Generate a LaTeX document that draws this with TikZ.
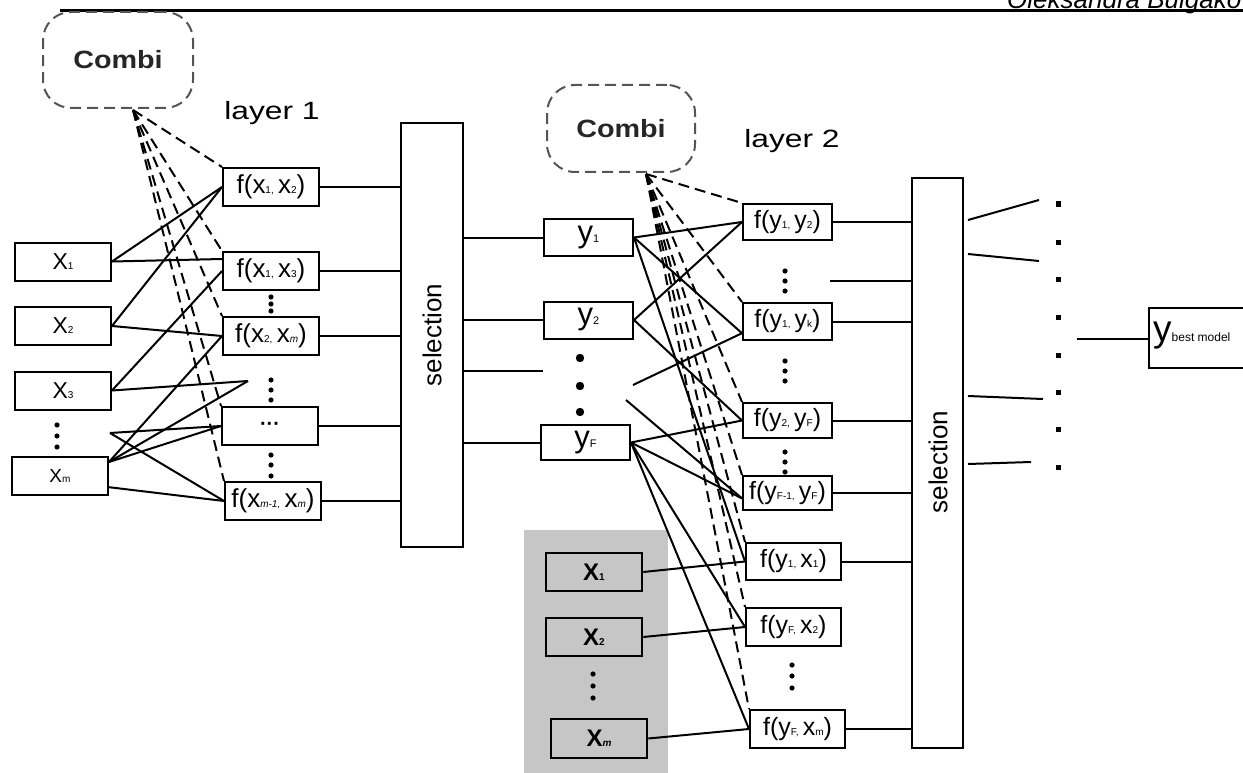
\documentclass[tikz,border=0pt]{standalone}
\usepackage{fontspec}
\setmainfont{Liberation Sans}
\usetikzlibrary{calc}
\newcommand\sbs[1]{{\fontsize{10}{10}\selectfont #1}}
\newcommand\sbb[1]{{\fontsize{11}{11}\selectfont #1}}
\begin{document}
\begin{tikzpicture}[x=1pt,y=-1pt,
  box/.style={draw, line width=2pt, inner sep=0pt, minimum width=96pt, minimum height=38pt, fill=white},
  inbox/.style={box, font=\fontsize{23}{26}\selectfont},
  fbox/.style={box, font=\fontsize{26}{28}\selectfont},
  ybox/.style={box, minimum width=89pt, minimum height=37pt, font=\fontsize{31}{32}\selectfont},
  gbox/.style={box, minimum width=89pt, minimum height=36pt, font=\fontsize{25}{28}\selectfont},
  hbox/.style={box, minimum width=95pt, minimum height=38pt, font=\fontsize{25}{28}\selectfont},
  xgray/.style={box, line width=2.6pt, fill=graybg, font=\bfseries\fontsize{24}{26}\selectfont},
  selbox/.style={draw, line width=2pt, inner sep=0pt},
  combibox/.style={draw=combigray, line width=2pt, dash pattern=on 11pt off 6pt, rounded corners=28pt, inner sep=0pt, font=\bfseries\fontsize{25}{28}\selectfont, text=black!85},
  conn/.style={line width=2pt},
  dconn/.style={line width=2pt, dash pattern=on 11pt off 6pt},
  lbl/.style={font=\fontsize{25}{27}\selectfont, inner sep=0pt}
]
\definecolor{graybg}{HTML}{C6C6C6}
\definecolor{combigray}{HTML}{555555}
\useasboundingbox (0,0) rectangle (1243,773);
\clip (0,0) rectangle (1243,773);

% header
\node[anchor=base west, inner sep=0pt, font=\itshape\fontsize{26}{28}\selectfont] (hdr) at (1007,8.5) {Oleksandra Bulgako};
\draw[line width=2.2pt] (60,10.5) -- (1243,10.5);

% gray area
\fill[graybg] (524,530) rectangle (668,790);

% combi boxes and layer labels
\node[combibox, minimum width=150pt, minimum height=96pt] (combiA) at (118,60) {\scalebox{1.15}[1]{Combi}};
\node[combibox, minimum width=148pt, minimum height=87pt] (combiB) at (621,128.5) {\scalebox{1.15}[1]{Combi}};
\node[lbl] (layA) at (272,113) {\scalebox{1.27}[1]{layer 1}};
\node[lbl] (layB) at (792,141) {\scalebox{1.27}[1]{layer 2}};
\coordinate (cA) at (133,110);
\coordinate (cB) at (646,174);

% layer 1 inputs
\node[inbox] (X1) at (63,261.5) {X\sbs{1}};
\node[inbox] (X2) at (63,326) {X\sbs{2}};
\node[inbox] (X3) at (63,390.5) {X\sbs{3}};
\node[inbox, font=\fontsize{19}{20}\selectfont] (Xm) at (60,476) {X\sbs{m}};
\foreach \yy in {425,436,447} \fill (57,\yy) circle (2.6);

% layer 1 f boxes
\node[fbox] (f12) at (271,187) {f(x\sbs{1,}\,x\sbs{2})};
\node[fbox] (f13) at (271,271) {f(x\sbs{1,}\,x\sbs{3})};
\node[fbox] (f2m) at (271,336) {f(x\sbs{2,}\,x\sbs{\itshape m})};
\node[fbox, font=\bfseries\fontsize{20}{22}\selectfont] (fdd) at (270,426) {\raisebox{-2pt}{···}};
\node[fbox] (fm1m) at (273,501) {f(x\sbs{\itshape m-1,}\,x\sbs{\itshape m})};
\foreach \yy in {297,304,311, 380,390,400, 455,465,476} \fill (271,\yy) circle (2.6);

% selection 1
\node[selbox, minimum width=62pt, minimum height=424pt] (sel1) at (432,335) {};
\node[rotate=90, font=\fontsize{26}{28}\selectfont, inner sep=0pt] (sel1t) at (sel1.center) {selection};

% free points layer 1
\coordinate (d1) at (248,381);
\coordinate (p1) at (110,433);
\coordinate (xmt) at ($(Xm.north east)!0.15!(Xm.south east)$);
\coordinate (xmb) at ($(Xm.north east)!0.78!(Xm.south east)$);
\coordinate (f13t) at ($(f13.north west)!0.2!(f13.south west)$);

% layer 1 solid connectors
\draw[conn] (X1.east) -- (f12.west);
\draw[conn] (X1.east) -- (f13t);
\draw[conn] (X2.east) -- (f12.west);
\draw[conn] (X2.east) -- (f2m.west);
\draw[conn] (X3.east) -- (f13.west);
\draw[conn] (X3.east) -- (d1);
\draw[conn] (xmt) -- (f2m.west);
\draw[conn] (xmt) -- (d1);
\draw[conn] (xmt) -- (fdd.west);
\draw[conn] (p1) -- (fdd.west);
\draw[conn] (p1) -- (fm1m.west);
\draw[conn] (xmb) -- (fm1m.west);

% layer 1 dashed
\foreach \n in {f12,f13,f2m,fdd,fm1m} \draw[dconn] (cA) -- (\n.north west);

% layer 1 to selection
\foreach \n in {f12,f13,f2m,fdd,fm1m} \draw[conn] (\n.east) -- (\n.east -| sel1.west);

% y boxes
\node[ybox] (y1) at (588.5,237.5) {y\sbb{1}};
\node[ybox] (y2) at (588.5,320) {y\sbb{2}};
\node[ybox, minimum height=35pt] (yF) at (585.5,442.5) {y\sbb{F}};
\foreach \yy in {358,386,412} \fill (580,\yy) circle (4.2);
\coordinate (e3) at (543,371);
\draw[conn] (sel1.east |- y1.west) -- (y1.west);
\draw[conn] (sel1.east |- y2.west) -- (y2.west);
\draw[conn] (sel1.east |- e3) -- (e3);
\draw[conn] (sel1.east |- yF.west) -- (yF.west);

% gray inputs
\node[xgray] (gX1) at (594,572) {X\sbs{1}};
\node[xgray] (gX2) at (594,637) {X\sbs{2}};
\node[xgray, minimum height=39pt] (gXm) at (599,738.5) {X\sbs{\itshape m}};
\foreach \yy in {674,686,698} \fill (593,\yy) circle (2.6);

% layer 2 f boxes
\node[gbox] (g12) at (787.5,222) {f(y\sbs{1,}\,y\sbs{2})};
\node[gbox, minimum height=37pt] (g1k) at (787.5,321.5) {f(y\sbs{1,}\,y\sbs{k})};
\node[gbox, minimum height=35pt] (g2F) at (787.5,420.5) {f(y\sbs{2,}\,y\sbs{F})};
\node[gbox, minimum height=34pt] (gF1F) at (787.5,493) {f(y\sbs{F-1,}\,y\sbs{F})};
\node[hbox, minimum height=37pt] (h11) at (793.5,561.5) {f(y\sbs{1,}\,x\sbs{1})};
\node[hbox] (hF2) at (793.5,627) {f(y\sbs{F,}\,x\sbs{2})};
\node[hbox] (hFm) at (797.5,729) {f(y\sbs{F,}\,x\sbs{m})};
\foreach \yy in {271,281,291, 361,371,381, 452,462,472} \fill (785,\yy) circle (2.6);
\foreach \yy in {665,676,688} \fill (792,\yy) circle (2.6);

% free points layer 2
\coordinate (p2) at (633,385);
\coordinate (p3) at (626,400);
\coordinate (g1kb) at ($(g1k.north west)!0.8!(g1k.south west)$);
\coordinate (gF1Fb) at ($(gF1F.north west)!0.65!(gF1F.south west)$);

% layer 2 dashed
\foreach \n in {g12,g1k,g2F,gF1F,h11,hF2,hFm} \draw[dconn] (cB) -- (\n.north west);

% layer 2 solid connectors
\draw[conn] (y1.east) -- (g12.west);
\draw[conn] (y1.east) -- (g1kb);
\draw[conn] (y1.east) -- (h11.west);
\draw[conn] (y2.east) -- (g12.west);
\draw[conn] (y2.east) -- (g2F.west);
\draw[conn] (p2) -- (g1kb);
\draw[conn] (p3) -- (gF1Fb);
\draw[conn] (yF.east) -- (g2F.west);
\draw[conn] (yF.east) -- (gF1Fb);
\draw[conn] (yF.east) -- (hF2.west);
\draw[conn] (yF.east) -- (hFm.west);
\draw[conn] (gX1.east) -- (h11.west);
\draw[conn] (gX2.east) -- (hF2.west);
\draw[conn] (gXm.east) -- (hFm.west);

% selection 2
\node[selbox, minimum width=51pt, minimum height=570pt] (sel2) at (937.5,463) {};
\node[rotate=90, font=\fontsize{26}{28}\selectfont, inner sep=0pt] (sel2t) at (938,462) {selection};
\coordinate (e2) at (830,281);
\foreach \n in {g12,g1k,g2F,gF1F,h11,hFm} \draw[conn] (\n.east) -- (\n.east -| sel2.west);
\draw[conn] (e2) -- (e2 -| sel2.west);

% outputs of selection 2
\coordinate (o1) at (1039,200);
\coordinate (o2) at (1039,261);
\coordinate (o3) at (1043,399);
\coordinate (o4) at (1031,462);
\draw[conn] ($(sel2.north east)+(4,43)$) -- (o1);
\draw[conn] ($(sel2.north east)+(4,77)$) -- (o2);
\draw[conn] ($(sel2.north east)+(4,219)$) -- (o3);
\draw[conn] ($(sel2.north east)+(4,287)$) -- (o4);
\foreach \yy in {204,242,279,317,355,392,429,467} \fill (1055.5,\yy-2.5) rectangle ++(5,5);

% best model
\node[box, minimum width=112pt, minimum height=60pt, anchor=west] (yb) at (1148,338) {};
\node[anchor=west, inner sep=0pt] (ybt) at (1153,336) {{\fontsize{37}{37}\selectfont y}{\fontsize{12}{12}\selectfont best model}};
\coordinate (e4) at (1077,339);
\draw[conn] (e4) -- (e4 -| yb.west);

\end{tikzpicture}
\end{document}
